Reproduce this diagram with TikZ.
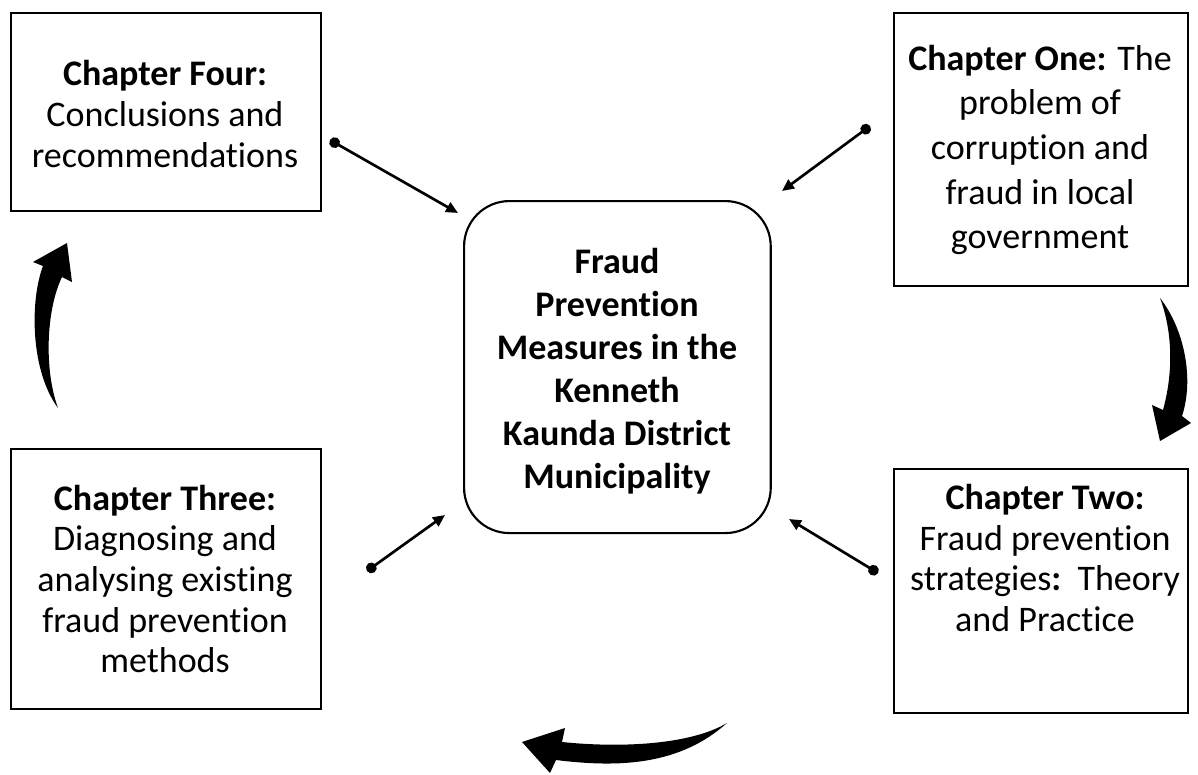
\documentclass[tikz,border=0pt]{standalone}
\usepackage{fontspec}
\setmainfont{Carlito}[Ligatures=NoCommon]
\usetikzlibrary{arrows.meta}
\begin{document}
\begin{tikzpicture}[x=0.75pt,y=-0.75pt,
  chapbox/.style={draw=black,line width=1.6pt,minimum width=#1,inner sep=0pt},
  txt/.style={align=center,font=\fontsize{27}{30.5}\selectfont,inner sep=0pt},
  link/.style={line width=2pt,{Circle[length=8pt]}-{Triangle[length=9pt,width=8pt]}},
  bigarrow/.style={fill=black,draw=none}]
\useasboundingbox (0,0) rectangle (1198,774);
% boxes
\node[chapbox=232.5pt,minimum height=148.5pt,anchor=north west] (four) at (10,12) {};
\node[chapbox=220.5pt,minimum height=204.75pt,anchor=north west] (one) at (893,12) {};
\node[chapbox=232.5pt,minimum height=195pt,anchor=north west] (three) at (10,448) {};
\node[chapbox=220.5pt,minimum height=183pt,anchor=north west] (two) at (893,468) {};
\node[draw=black,line width=1.6pt,rounded corners=34pt,minimum width=230pt,minimum height=249pt,anchor=north west,inner sep=0pt] (center) at (463,200) {};
% texts
\node[txt] (fourtxt) at (165,114) {\textbf{Chapter Four:}\\Conclusions and\\recommendations};
\node[txt,font=\fontsize{27}{33.5}\selectfont] (onetxt) at (1040,150) {\textbf{Chapter One:} The\\problem of\\corruption and\\fraud in local\\government};
\node[txt] (threetxt) at (165,579) {\textbf{Chapter Three:}\\Diagnosing and\\analysing existing\\fraud prevention\\methods};
\node[txt] (twotxt) at (1045,558) {\textbf{Chapter Two:}\\Fraud prevention\\strategies\textbf{:}\ \ Theory\\and Practice};
\node[txt,font=\bfseries\fontsize{27}{32.3}\selectfont] (centertxt) at (617,371) {Fraud\\Prevention\\Measures in the\\Kenneth\\Kaunda District\\Municipality};
% connectors
\coordinate (d4) at (330,140); \coordinate (t4) at (458,213);
\coordinate (d1) at (870,126); \coordinate (t1) at (782,191);
\coordinate (d3) at (367,571); \coordinate (t3) at (445,515);
\coordinate (d2) at (878,573); \coordinate (t2) at (789,519);
\draw[link] (d4) -- (t4);
\draw[link] (d1) -- (t1);
\draw[link] (d3) -- (t3);
\draw[link] (d2) -- (t2);
% big curved arrows
\fill[bigarrow] (1160,298) .. controls (1185,330) and (1194,380) .. (1182,416) -- (1191,423) -- (1160,441) -- (1152,405) -- (1163,410) .. controls (1174,370) and (1172,330) .. cycle;
\fill[bigarrow] (58,408) .. controls (30,370) and (30,300) .. (43,266) -- (33,262) -- (67,243) -- (72,282) -- (62,277) .. controls (46,310) and (44,370) .. cycle;
\fill[bigarrow] (727,723) .. controls (680,765) and (620,768) .. (556,760) -- (550,773) -- (522,742) -- (565,728) -- (562,742) .. controls (620,748) and (690,745) .. cycle;
\end{tikzpicture}
\end{document}
